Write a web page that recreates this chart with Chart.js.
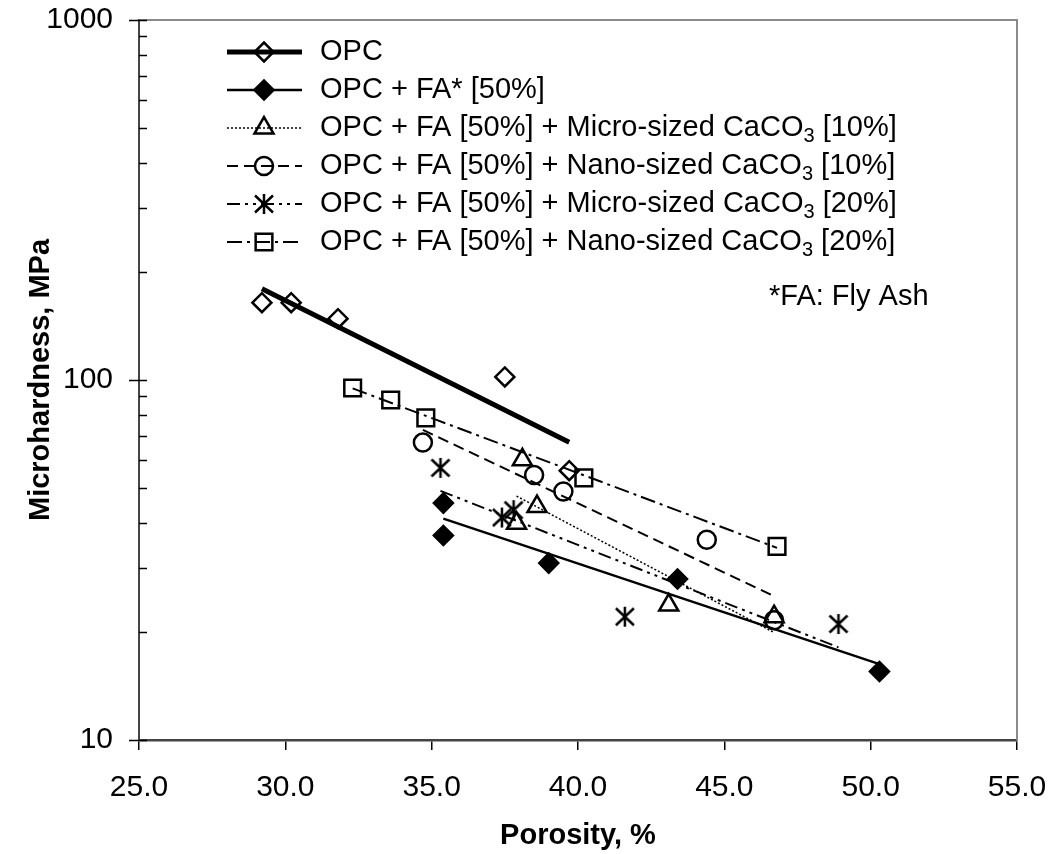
<!DOCTYPE html>
<html>
<head>
<meta charset="utf-8">
<title>Microhardness vs Porosity</title>
<script src="https://cdn.jsdelivr.net/npm/chart.js@4.4.0/dist/chart.umd.min.js"></script>
<style>
  html, body { margin: 0; padding: 0; background: #fff; }
  #wrap { width: 1052px; height: 854px; }
</style>
</head>
<body>
<div id="wrap"><canvas id="HardnessChart" width="1052" height="854"></canvas></div>
<script>
// Values: porosity (%) vs microhardness (MPa), one pair per mix
const seriesNames = [
  'OPC',
  'OPC + FA* [50%]',
  'OPC + FA [50%] + Micro-sized CaCO₃ [10%]',
  'OPC + FA [50%] + Nano-sized CaCO₃ [10%]',
  'OPC + FA [50%] + Micro-sized CaCO₃ [20%]',
  'OPC + FA [50%] + Nano-sized CaCO₃ [20%]'
];

const opcPorosity = [29.2, 30.2, 31.8, 37.5, 39.7];
const opcHardness = [164, 164, 148, 102, 56];

const faPorosity = [35.4, 35.4, 39.0, 43.4, 50.3];
const faHardness = [45.5, 37, 31, 28, 15.5];

const micro10Porosity = [38.1, 38.6, 37.9, 43.1, 46.7];
const micro10Hardness = [60, 44.5, 40, 23.7, 22];

const nano10Porosity = [34.7, 38.5, 39.5, 44.4, 46.7];
const nano10Hardness = [67, 54.5, 49, 36, 21.5];

const micro20Porosity = [35.3, 37.8, 37.4, 41.6, 48.9];
const micro20Hardness = [57, 43.5, 41.5, 22, 21];

const nano20Porosity = [32.3, 33.6, 34.8, 40.2, 46.8];
const nano20Hardness = [95, 88, 78.5, 53.5, 34.5];

const porosityTicks = [25, 30, 35, 40, 45, 50, 55];
const hardnessTicks = [10, 100, 1000];

const noteText = '*FA: Fly Ash';

const FONT = "'Liberation Sans', Arial, Helvetica, sans-serif";

// asterisk marker (vertical bar + X), Chart.js 'star' has an extra horizontal arm
function makeAsterisk() {
  const c = document.createElement('canvas');
  c.width = 24; c.height = 24;
  const g = c.getContext('2d');
  g.strokeStyle = '#000';
  g.lineWidth = 2.5;
  g.beginPath();
  g.moveTo(12, 2); g.lineTo(12, 22);
  g.moveTo(3, 3.5); g.lineTo(21, 20.5);
  g.moveTo(3, 20.5); g.lineTo(21, 3.5);
  g.stroke();
  return c;
}

// least squares fit of ln(y) on x -> straight trend line on the log axis
function expTrend(xs, ys) {
  const n = xs.length;
  const ly = ys.map(v => Math.log(v));
  const mx = xs.reduce((a, b) => a + b, 0) / n;
  const my = ly.reduce((a, b) => a + b, 0) / n;
  let sxy = 0, sxx = 0;
  for (let i = 0; i < n; i++) {
    sxy += (xs[i] - mx) * (ly[i] - my);
    sxx += (xs[i] - mx) * (xs[i] - mx);
  }
  const b = sxy / sxx;
  const a = my - b * mx;
  const x0 = Math.min(...xs), x1 = Math.max(...xs);
  return [{ x: x0, y: Math.exp(a + b * x0) }, { x: x1, y: Math.exp(a + b * x1) }];
}

function toPoints(xs, ys) {
  return xs.map((x, i) => ({ x: x, y: ys[i] }));
}

const seriesData = [
  [opcPorosity, opcHardness],
  [faPorosity, faHardness],
  [micro10Porosity, micro10Hardness],
  [nano10Porosity, nano10Hardness],
  [micro20Porosity, micro20Hardness],
  [nano20Porosity, nano20Hardness]
];

// marker + line style for each series
const markerStyles = [
  { pointStyle: 'rectRot', radius: 9.5, fill: 'rgba(0,0,0,0)' },
  { pointStyle: 'rectRot', radius: 9.5, fill: '#000' },
  { pointStyle: 'triangle', radius: 11, fill: 'rgba(0,0,0,0)' },
  { pointStyle: 'circle', radius: 9, fill: 'rgba(0,0,0,0)' },
  { pointStyle: makeAsterisk(), radius: 10, fill: 'rgba(0,0,0,0)' },
  { pointStyle: 'rect', radius: 11.8, fill: 'rgba(0,0,0,0)' }
];
const lineStyles = [
  { width: 5, dash: [] },
  { width: 2.5, dash: [] },
  { width: 1.5, dash: [2, 2] },
  { width: 2, dash: [11, 6] },
  { width: 2, dash: [13, 5, 3, 5, 3, 5] },
  { width: 2, dash: [15, 5, 3, 5] }
];

const datasets = [];
seriesData.forEach(([xs, ys], i) => {
  datasets.push({
    label: seriesNames[i],
    data: toPoints(xs, ys),
    showLine: false,
    pointStyle: markerStyles[i].pointStyle,
    pointRadius: markerStyles[i].radius,
    pointHoverRadius: markerStyles[i].radius,
    pointBackgroundColor: markerStyles[i].fill,
    pointBorderColor: '#000',
    pointBorderWidth: 2.5,
    isMarkers: true,
    lineIndex: i
  });
});
seriesData.forEach(([xs, ys], i) => {
  datasets.push({
    label: seriesNames[i] + ' trend',
    data: expTrend(xs, ys),
    showLine: true,
    borderColor: '#000',
    borderWidth: lineStyles[i].width,
    borderDash: lineStyles[i].dash,
    borderCapStyle: 'butt',
    pointRadius: 0,
    pointHoverRadius: 0
  });
});

// frame, inside minor ticks on the log axis, legend and footnote
const decorations = {
  id: 'decorations',
  afterDraw(chart) {
    const ctx = chart.ctx;
    const area = chart.chartArea;
    const yScale = chart.scales.y;
    ctx.save();

    // top and right border
    ctx.strokeStyle = '#8a8a8a';
    ctx.lineWidth = 2;
    ctx.beginPath();
    ctx.moveTo(area.left, area.top);
    ctx.lineTo(area.right, area.top);
    ctx.lineTo(area.right, area.bottom);
    ctx.stroke();

    // y ticks: majors cross the axis, minors inside
    ctx.strokeStyle = '#000';
    ctx.lineWidth = 1.5;
    ctx.beginPath();
    for (let e = Math.log10(yScale.min); e < Math.log10(yScale.max) + 0.001; e++) {
      for (let m = 1; m <= 9; m++) {
        const v = m * Math.pow(10, e);
        if (v > yScale.max * 1.0001) break;
        const py = Math.round(yScale.getPixelForValue(v)) + 0.5;
        ctx.moveTo(m === 1 ? area.left - 10 : area.left, py);
        ctx.lineTo(area.left + 8, py);
      }
    }
    ctx.stroke();

    // legend
    const lx0 = 227, lx1 = 302, mx = 264, tx = 320, ly0 = 52, dy = 38;
    const markerSets = chart.data.datasets.filter(d => d.isMarkers);
    markerSets.forEach((ds, i) => {
      const y = ly0 + i * dy;
      const ls = lineStyles[ds.lineIndex];
      ctx.strokeStyle = '#000';
      ctx.lineWidth = ls.width;
      ctx.setLineDash(ls.dash);
      ctx.lineCap = 'butt';
      ctx.beginPath();
      ctx.moveTo(lx0, y);
      ctx.lineTo(lx1, y);
      ctx.stroke();
      ctx.setLineDash([]);

      ctx.fillStyle = ds.pointBackgroundColor;
      ctx.strokeStyle = ds.pointBorderColor;
      ctx.lineWidth = ds.pointBorderWidth;
      Chart.helpers.drawPoint(ctx, {
        pointStyle: ds.pointStyle,
        rotation: 0,
        radius: ds.pointRadius,
        borderWidth: ds.pointBorderWidth
      }, mx, y);

      // label text, with the subscript 3 of CaCO3 drawn smaller and lower
      ctx.fillStyle = '#000';
      ctx.textBaseline = 'middle';
      ctx.textAlign = 'left';
      const parts = ds.label.split('₃');
      let x = tx;
      parts.forEach((p, k) => {
        ctx.font = '29px ' + FONT;
        ctx.fillText(p, x, y);
        x += ctx.measureText(p).width;
        if (k < parts.length - 1) {
          ctx.font = '20px ' + FONT;
          ctx.fillText('3', x, y + 8);
          x += ctx.measureText('3').width;
        }
      });
    });

    ctx.font = '29px ' + FONT;
    ctx.fillStyle = '#000';
    ctx.textBaseline = 'middle';
    ctx.fillText(noteText, 769, 297);
    ctx.restore();
  }
};

document.addEventListener('DOMContentLoaded', function() {
  const ctx = document.getElementById('HardnessChart').getContext('2d');
  Chart.defaults.font.family = FONT;
  Chart.defaults.color = '#000';

  new Chart(ctx, {
    type: 'scatter',
    data: { datasets: datasets },
    options: {
      responsive: false,
      animation: false,
      layout: { padding: { left: 0, right: 35, top: 20, bottom: 0 } },
      plugins: {
        legend: { display: false },
        tooltip: { enabled: false }
      },
      scales: {
        x: {
          type: 'linear',
          position: 'bottom',
          min: porosityTicks[0],
          max: porosityTicks[porosityTicks.length - 1],
          afterBuildTicks: s => { s.ticks = porosityTicks.map(v => ({ value: v })); },
          afterFit: s => { s.height = 114; s.paddingLeft = 0; s.paddingRight = 0; },
          ticks: {
            font: { size: 30 },
            padding: 20,
            maxRotation: 0,
            callback: v => Number(v).toFixed(1)
          },
          grid: { drawOnChartArea: false, drawTicks: true, tickLength: 10, color: '#000', lineWidth: 1.5 },
          border: { color: '#444', width: 2.5 },
          title: {
            display: true,
            text: 'Porosity, %',
            font: { size: 29, weight: 'bold' },
            padding: { top: 0, bottom: 1 }
          }
        },
        y: {
          type: 'logarithmic',
          min: hardnessTicks[0],
          max: hardnessTicks[hardnessTicks.length - 1],
          afterBuildTicks: s => { s.ticks = hardnessTicks.map(v => ({ value: v, major: true })); },
          afterFit: s => { s.width = 139; s.paddingTop = 0; s.paddingBottom = 0; },
          ticks: {
            font: { size: 30 },
            padding: 26,
            callback: v => String(v)
          },
          grid: { drawOnChartArea: false, drawTicks: false },
          border: { color: '#444', width: 2 },
          title: {
            display: true,
            text: 'Microhardness, MPa',
            font: { size: 29, weight: 'bold' },
            padding: { top: 24, bottom: 0 }
          }
        }
      }
    },
    plugins: [decorations]
  });
});
</script>
</body>
</html>
